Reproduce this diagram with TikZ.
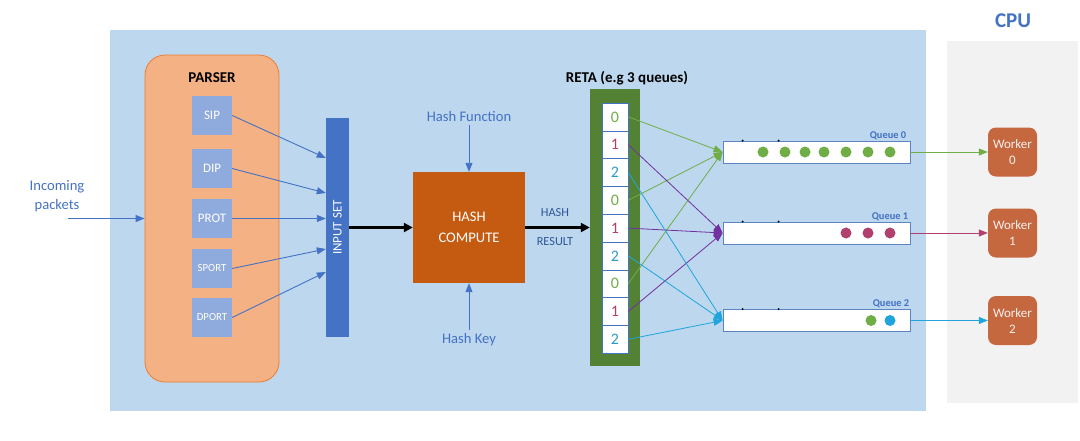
\documentclass[tikz,border=0pt]{standalone}
\usepackage{fontspec}
\setmainfont{Carlito}
\usetikzlibrary{arrows.meta}
\definecolor{bgblue}{HTML}{BDD7EE}
\definecolor{cpugray}{HTML}{F2F2F2}
\definecolor{parserfill}{HTML}{F4B183}
\definecolor{parserborder}{HTML}{ED7D31}
\definecolor{fieldblue}{HTML}{8FAADC}
\definecolor{inputblue}{HTML}{4472C4}
\definecolor{hashorange}{HTML}{C55A11}
\definecolor{retagreen}{HTML}{548235}
\definecolor{qgreen}{HTML}{70AD47}
\definecolor{qpurple}{HTML}{7030A0}
\definecolor{qmaroon}{HTML}{B0416F}
\definecolor{qcyan}{HTML}{1FA5DB}
\definecolor{digcyan}{HTML}{2E9AC6}
\definecolor{workerfill}{HTML}{C5673F}
\definecolor{txtblue}{HTML}{4472C4}
\definecolor{txtdark}{HTML}{2F5597}
\definecolor{qborder}{HTML}{5B84C0}
\newcommand{\fs}[2]{\fontsize{#1}{#2}\selectfont}
\begin{document}
\begin{tikzpicture}[x=1pt,y=-1pt,
  fieldbox/.style={fill=fieldblue, minimum width=40pt, minimum height=39pt, inner sep=0pt, text=white},
  bluearrow/.style={draw=inputblue, line width=0.9pt, -{Triangle[length=9pt,width=7pt]}},
  blackarrow/.style={draw=black, line width=2.2pt, -{Triangle[length=9pt,width=9pt]}},
  cellbox/.style={fill=white, draw=inputblue, line width=0.6pt, minimum width=26pt, minimum height=27.8pt, inner sep=0pt, font=\fs{16}{18}},
  qbox/.style={fill=white, draw=qborder, line width=0.8pt, minimum width=187pt, minimum height=22pt, inner sep=0pt},
  qlabel/.style={font=\bfseries\fs{10.4}{12}, text=txtblue, anchor=south east, inner sep=1pt},
  worker/.style={fill=workerfill, rounded corners=8pt, minimum width=49pt, minimum height=49pt, inner sep=0pt, text=white!90!workerfill, align=center, font=\fs{13}{16}},
  retaarrow/.style={line width=0.8pt, -{Triangle[length=9pt,width=7pt]}},
  dot/.style={radius=5.5pt}
]
\useasboundingbox (0,0) rectangle (1080,440);
% backgrounds
\fill[bgblue] (110,30) rectangle (926,411);
\fill[cpugray] (947,41) rectangle (1078,403);
\node[font=\bfseries\fs{21}{24}, text=txtblue] (cpu) at (1013,21) {CPU};

% parser
\node[draw=parserborder, fill=parserfill, line width=0.8pt, rounded corners=20pt, minimum width=134pt, minimum height=327pt, inner sep=0pt] (parser) at (212,218.5) {};
\node[font=\bfseries\fs{15}{17}] (parserlbl) at (212,78) {PARSER};
\node[fieldbox, font=\fs{13}{15}] (sip) at (212,115.5) {SIP};
\node[fieldbox, font=\fs{13}{15}] (dip) at (212,168.5) {DIP};
\node[fieldbox, font=\fs{13}{15}] (prot) at (212,218.5) {PROT};
\node[fieldbox, font=\fs{10.8}{12}] (sport) at (212,268.5) {SPORT};
\node[fieldbox, font=\fs{10.8}{12}] (dport) at (212,317.5) {DPORT};

% incoming
\node[align=center, text=txtblue, font=\fs{14.6}{19}] (inclbl) at (57,196) {Incoming\\packets};
\coordinate (inc) at (68,218.5);
\draw[bluearrow] (inc) -- (parser.west);

% input set
\node[fill=inputblue, minimum width=23pt, minimum height=219pt, inner sep=0pt, text=white, font=\fs{13}{15}] (inputset) at (337.5,227.5) {\rotatebox{90}{INPUT SET}};
\draw[bluearrow] (sip.east) -- ([yshift=69.5pt]inputset.west);
\draw[bluearrow] (dip.east) -- ([yshift=34.5pt]inputset.west);
\draw[bluearrow] (prot.east) -- ([yshift=9pt]inputset.west);
\draw[bluearrow] (sport.east) -- ([yshift=-21.5pt]inputset.west);
\draw[bluearrow] (dport.east) -- ([yshift=-44.5pt]inputset.west);

% hash compute
\node[fill=hashorange, minimum width=112pt, minimum height=111pt, inner sep=0pt, text=white, align=center, font=\fs{14.6}{21}] (hash) at (469,227.5) {HASH\\COMPUTE};
\node[text=txtblue, font=\fs{14.6}{17}] (hf) at (469,116) {Hash Function};
\node[text=txtblue, font=\fs{14.6}{17}] (hk) at (469,340) {Hash Key};
\draw[bluearrow] (hf.south) -- (hash.north);
\draw[bluearrow] (hk.north) -- (hash.south);
\draw[blackarrow] (inputset.east) -- (hash.west);

% reta
\node[fill=retagreen, minimum width=50pt, minimum height=277pt, inner sep=0pt] (reta) at (615,227.5) {};
\node[font=\bfseries\fs{15}{17}] (retalbl) at (627,78) {RETA (e.g 3 queues)};
\draw[blackarrow] (hash.east) -- (reta.west);
\node[text=txtdark, font=\fs{12.3}{14}] (hashlbl) at (555,213) {HASH};
\node[text=txtdark, font=\fs{12.3}{14}] (resultlbl) at (555,242) {RESULT};

\node[cellbox, text=qgreen] (c0) at (615,116.9) {0};
\node[cellbox, text=qmaroon] (c1) at (615,144.7) {1};
\node[cellbox, text=digcyan] (c2) at (615,172.5) {2};
\node[cellbox, text=qgreen] (c3) at (615,200.3) {0};
\node[cellbox, text=qmaroon] (c4) at (615,228.1) {1};
\node[cellbox, text=digcyan] (c5) at (615,255.9) {2};
\node[cellbox, text=qgreen] (c6) at (615,283.7) {0};
\node[cellbox, text=qmaroon] (c7) at (615,311.5) {1};
\node[cellbox, text=digcyan] (c8) at (615,339.3) {2};

% queues
\node[qbox] (q0) at (816.5,152) {};
\node[qbox] (q1) at (816.5,233) {};
\node[qbox] (q2) at (816.5,320.5) {};
\node[qlabel] (q0lbl) at ([xshift=-3pt,yshift=0pt]q0.north east) {Queue 0};
\node[qlabel] (q1lbl) at ([xshift=-1pt,yshift=0pt]q1.north east) {Queue 1};
\node[qlabel] (q2lbl) at ([xshift=0pt,yshift=0pt]q2.north east) {Queue 2};
\foreach \q in {q0,q1,q2}{
  \fill[black] ([xshift=20pt]\q.north west) circle (1.1pt);
  \fill[black] ([xshift=56pt]\q.north west) circle (1.1pt);
}
\foreach \x in {763,785,805,824,846,868,890}{
  \fill[qgreen] (\x,152) circle[dot];
}
\foreach \x in {846,868,890}{
  \fill[qmaroon] (\x,233) circle[dot];
}
\fill[qgreen] (871,320.5) circle[dot];
\fill[qcyan] (890,320.5) circle[dot];

% reta arrows
\draw[retaarrow, qgreen] (c0.east) -- (q0.west);
\draw[retaarrow, qgreen] (c3.east) -- (q0.west);
\draw[retaarrow, qgreen] (c6.east) -- (q0.west);
\draw[retaarrow, qpurple] (c1.east) -- (q1.west);
\draw[retaarrow, qpurple] (c4.east) -- (q1.west);
\draw[retaarrow, qpurple] (c7.east) -- (q1.west);
\draw[retaarrow, qcyan] (c2.east) -- (q2.west);
\draw[retaarrow, qcyan] (c5.east) -- (q2.west);
\draw[retaarrow, qcyan] (c8.east) -- (q2.west);

% workers
\node[worker] (w0) at (1012.5,152) {Worker\\0};
\node[worker] (w1) at (1012.5,233) {Worker\\1};
\node[worker] (w2) at (1012.5,320.5) {Worker\\2};
\draw[retaarrow, qgreen] (q0.east) -- (w0.west);
\draw[retaarrow, qmaroon] (q1.east) -- (w1.west);
\draw[retaarrow, qcyan] (q2.east) -- (w2.west);
\end{tikzpicture}
\end{document}
